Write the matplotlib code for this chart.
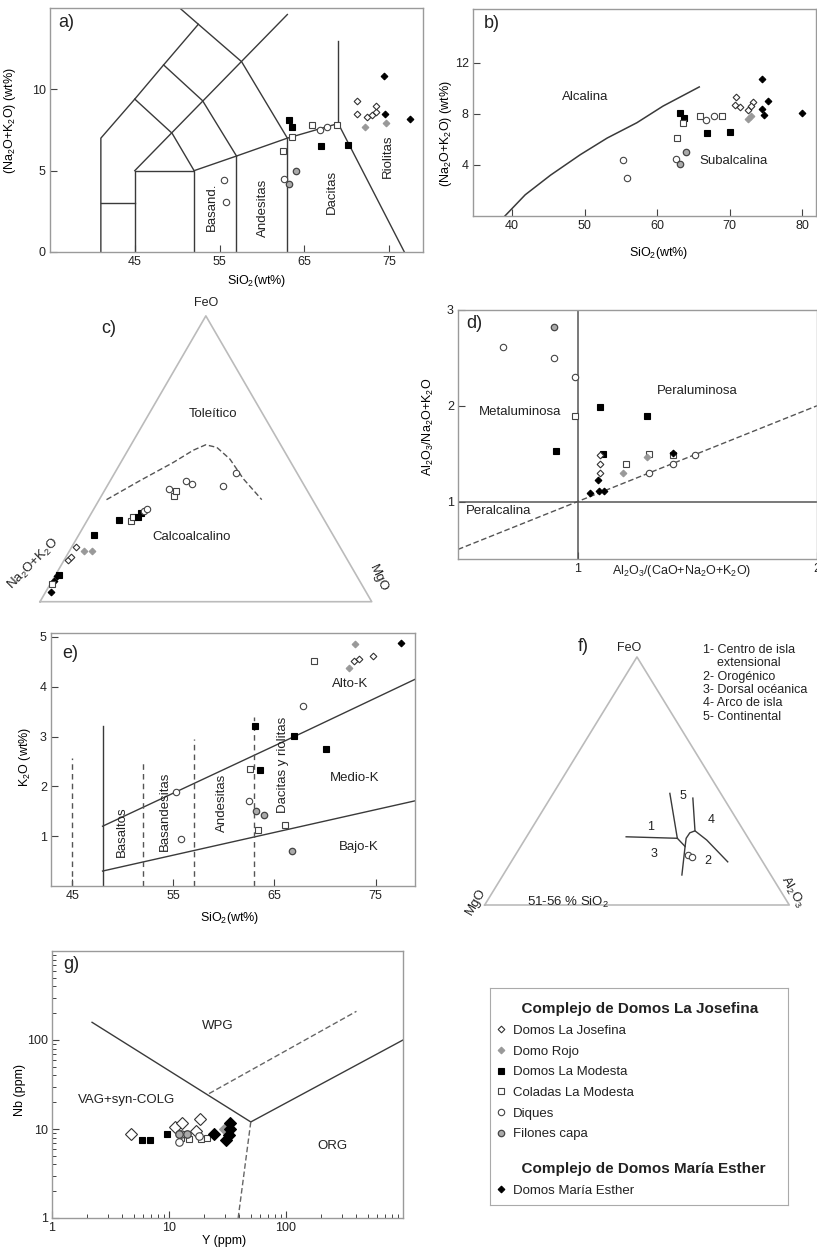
import numpy as np
import matplotlib
matplotlib.use("Agg")
import matplotlib.pyplot as plt
from matplotlib.lines import Line2D

plt.rcParams['font.family'] = ['Liberation Sans', 'DejaVu Sans']
plt.rcParams['mathtext.fontset'] = 'custom'
plt.rcParams['mathtext.rm'] = 'Liberation Sans'
plt.rcParams['mathtext.it'] = 'Liberation Sans'
plt.rcParams['font.size'] = 9
plt.rcParams['text.color'] = '#222222'
plt.rcParams['xtick.color'] = '#444444'
plt.rcParams['ytick.color'] = '#444444'
plt.rcParams['xtick.labelcolor'] = '#222222'
plt.rcParams['ytick.labelcolor'] = '#222222'

# ---- data ----
# a) TAS (SiO2, Na2O+K2O)
tas_pts = {
    'jos': ([71.2, 71.2, 72.4, 73.0, 73.4, 73.5], [9.3, 8.5, 8.3, 8.4, 8.6, 9.0]),
    'rojo': ([72.1, 74.6], [7.7, 7.9]),
    'mod': ([63.2, 63.6, 67.0, 70.1], [8.1, 7.7, 6.5, 6.6]),
    'col': ([63.5, 62.5, 65.9, 68.9], [7.1, 6.2, 7.8, 7.8]),
    'diq': ([62.6, 66.8, 67.7, 55.5, 55.8], [4.5, 7.5, 7.7, 4.4, 3.1]),
    'fil': ([63.2, 64.0], [4.2, 5.0]),
    'me': ([74.4, 74.5, 77.5], [10.8, 8.5, 8.2]),
}
tas_lines = [
    [(41, 0), (41, 7), (45, 9.4), (48.4, 11.5), (52.5, 14), (50.3, 15)],
    [(41, 3), (45, 3)],
    [(45, 0), (45, 5), (52, 5), (52, 0)],
    [(45, 5), (63, 14.6)],
    [(45, 9.4), (49.4, 7.3), (52, 5)],
    [(48.4, 11.5), (53, 9.3), (57, 5.9)],
    [(52.5, 14), (57.6, 11.7), (63, 7)],
    [(52, 5), (57, 5.9), (63, 7), (69, 7.9), (76.8, 0)],
    [(57, 0), (57, 5.9)],
    [(63, 0), (63, 7)],
    [(69, 7.9), (69, 13)],
]
tas_names = ['Basand.', 'Andesitas', 'Dacitas', 'Riolitas']
tas_name_xy = [(54.1, 2.8), (60.1, 2.7), (68.3, 3.7), (74.8, 5.9)]

# b) Irvine & Baragar alkaline / subalkaline
ib_pts = {
    'jos': ([70.9, 70.7, 71.4, 72.5, 73.2, 72.9], [9.3, 8.7, 8.5, 8.3, 8.95, 8.6]),
    'rojo': ([72.5, 73.0], [7.6, 7.8]),
    'mod': ([63.1, 63.7, 66.9, 70.1], [8.1, 7.7, 6.5, 6.6]),
    'col': ([63.5, 62.7, 65.9, 68.9], [7.3, 6.1, 7.8, 7.8]),
    'diq': ([66.7, 67.8, 55.3, 55.8, 62.6], [7.5, 7.8, 4.4, 3.0, 4.45]),
    'fil': ([63.1, 64.0], [4.1, 5.0]),
    'me': ([74.5, 75.3, 74.4, 74.7, 80.0], [10.75, 9.0, 8.4, 7.9, 8.1]),
}
ib_curve_x = [39.0, 41.8, 45.3, 49.4, 53.1, 57.2, 60.8, 65.8]
ib_curve_y = [0.0, 1.66, 3.2, 4.8, 6.1, 7.3, 8.6, 10.1]

# c) AFM ternary (FeO %, MgO %; rest = Na2O+K2O)
afm_pts = {
    'me': ([3.5, 7.3, 8.9], [1.5, 0.7, 0.8]),
    'col': ([6.1, 28.1, 29.6, 36.9, 38.7], [0.5, 13.3, 13.3, 21.9, 21.7]),
    'mod': ([9.3, 23.2, 28.7, 29.8, 31.0], [1.2, 4.7, 9.6, 14.7, 14.9]),
    'jos': ([14.7, 15.7, 19.1], [1.2, 1.4, 1.3]),
    'rojo': ([17.8, 17.8], [4.4, 6.7]),
    'diq': ([31.7, 32.5, 39.5, 42.1, 41.2, 40.6, 45.1], [15.4, 15.9, 19.2, 23.0, 25.1, 34.8, 36.6]),
}
afm_bound_f = [35.7, 42.4, 48.7, 53.0, 54.9, 54.0, 49.9, 43.0, 35.7]
afm_bound_m = [2.2, 9.0, 15.8, 19.7, 22.5, 26.3, 32.3, 39.8, 49.0]

# d) Shand index (A/CNK, A/NK)
shand_pts = {
    'diq': ([0.69, 0.90, 0.99, 1.30, 1.40, 1.49], [2.61, 2.50, 2.30, 1.30, 1.39, 1.49]),
    'fil': ([0.90], [2.82]),
    'col': ([0.99, 1.20, 1.30, 1.40], [1.89, 1.39, 1.50, 1.49]),
    'mod': ([0.91, 1.095, 1.29, 1.105], [1.53, 1.99, 1.89, 1.50]),
    'jos': ([1.095, 1.095, 1.095], [1.49, 1.39, 1.30]),
    'rojo': ([1.19, 1.29], [1.30, 1.47]),
    'me': ([1.05, 1.085, 1.09, 1.11, 1.40], [1.09, 1.22, 1.11, 1.11, 1.51]),
}

# e) K2O vs SiO2
k_pts = {
    'jos': ([72.9, 73.4, 74.7], [4.52, 4.56, 4.61]),
    'rojo': ([73.0, 72.4], [4.86, 4.37]),
    'mod': ([63.1, 63.6, 66.9, 70.1], [3.21, 2.32, 3.01, 2.76]),
    'col': ([68.9, 62.6, 63.4, 66.0], [4.51, 2.34, 1.12, 1.23]),
    'diq': ([67.8, 55.3, 55.8, 62.5], [3.61, 1.89, 0.95, 1.71]),
    'fil': ([63.2, 64.0, 66.7], [1.51, 1.43, 0.70]),
    'me': ([77.5], [4.88]),
}
k_high = [(48, 1.2), (68, 3.1), (78.9, 4.15)]
k_low = [(48, 0.3), (78.9, 1.71)]
k_dash_x = [45, 52, 57, 63]
k_dash_top = [2.58, 2.49, 2.96, 3.4]
k_names = ['Basaltos', 'Basandesitas', 'Andesitas', 'Dacitas y riolitas']
k_name_xy = [(49.9, 1.1), (54.2, 1.5), (59.8, 1.67), (65.8, 2.44)]

# f) FeO-MgO-Al2O3 ternary (FeO %, Al2O3 %)
fma_pts = {'diq': ([20.2, 19.3], [56.7, 58.4])}
fma_lines = [
    ([45.0, 26.9], [38.3, 49.8]),
    ([27.5, 26.9], [32.7, 49.8]),
    ([26.9, 23.6, 12.1], [49.8, 54.0, 58.7]),
    ([43.1, 29.9], [46.8, 54.1]),
    ([23.6, 26.9, 29.1, 29.9, 26.2, 17.4], [54.0, 52.7, 52.8, 54.1, 59.8, 71.1]),
]
fma_keys = ['1- Centro de isla', '    extensional', '2- Orogénico',
            '3- Dorsal océanica', '4- Arco de isla', '5- Continental']

# g) Nb vs Y
nby_pts = {
    'jos': ([4.77, 11.3, 12.8, 18.4, 16.9], [8.7, 10.6, 11.6, 12.8, 9.6]),
    'mod': ([5.93, 6.84, 9.7], [7.6, 7.6, 8.7]),
    'col': ([12.6, 14.8, 18.6, 21.2, 13.8], [8.0, 7.8, 7.8, 8.0, 8.7]),
    'diq': ([12.2, 12.6, 18.0], [7.2, 8.7, 8.3]),
    'fil': ([12.2, 14.3], [8.7, 8.7]),
    'rojo': ([30.4], [9.9]),
    'me': ([24.2, 33.0, 33.4, 32.5, 30.7], [8.7, 11.6, 9.9, 8.6, 7.6]),
}
nby_solid = [[(2.2, 158), (50, 12), (1000, 100)]]
nby_dash = [[(22, 25), (400, 210)], [(50, 12), (39, 1)]]

legend_labels = {
    'jos': 'Domos La Josefina', 'rojo': 'Domo Rojo', 'mod': 'Domos La Modesta',
    'col': 'Coladas La Modesta', 'diq': 'Diques', 'fil': 'Filones capa',
    'me': 'Domos María Esther',
}

# ---- styles ----
styles = {
    'jos': dict(marker='D', mfc='white', mec='#333333', ms=3.4, mew=0.8),
    'rojo': dict(marker='D', mfc='#999999', mec='#999999', ms=3.4, mew=0.8),
    'mod': dict(marker='s', mfc='black', mec='black', ms=4.5, mew=0.8),
    'col': dict(marker='s', mfc='white', mec='#444444', ms=4.5, mew=0.8),
    'diq': dict(marker='o', mfc='white', mec='#444444', ms=4.6, mew=0.8),
    'fil': dict(marker='o', mfc='#aaaaaa', mec='#444444', ms=4.6, mew=0.9),
    'me': dict(marker='D', mfc='black', mec='black', ms=3.4, mew=0.8),
}
g_sizes = {'jos': 6.5, 'rojo': 6.5, 'me': 6.0, 'mod': 5.0, 'col': 5.0, 'diq': 5.4, 'fil': 5.4}
LINE = '#3a3a3a'
FRAME = '#9a9a9a'

W, H = 817, 1258
fig = plt.figure(figsize=(W / 100, H / 100), dpi=100)


def px_axes(l, t, r, b):
    return fig.add_axes([l / W, 1 - b / H, (r - l) / W, (b - t) / H])


def plot_groups(ax, pts, sizes=None, conv=None):
    for key, (xs, ys) in pts.items():
        st = dict(styles[key])
        if sizes is not None:
            st['ms'] = sizes[key]
        if conv is not None:
            xs, ys = conv(xs, ys)
        ax.plot(xs, ys, ls='none', **st)


def frame(ax):
    for s in ax.spines.values():
        s.set_color(FRAME)
        s.set_linewidth(1.0)
    ax.tick_params(direction='in', length=5, width=0.8, labelsize=9, pad=3)


def tern(top, right):
    top = np.asarray(top, float) / 100
    right = np.asarray(right, float) / 100
    return right + top / 2, top * np.sqrt(3) / 2


# ---- a) ----
ax = px_axes(50, 8, 423, 252)
ax.set_xlim(35, 79)
ax.set_ylim(0, 15)
for ln in tas_lines:
    xs, ys = zip(*ln)
    ax.plot(xs, ys, color=LINE, lw=1)
for name, (x, y) in zip(tas_names, tas_name_xy):
    ax.text(x, y, name, rotation=90, ha='center', va='center', fontsize=9.5)
plot_groups(ax, tas_pts)
ax.set_xticks([45, 55, 65, 75])
ax.set_yticks([0, 5, 10])
frame(ax)
ax.set_xlabel(r'SiO$_2$(wt%)', fontsize=9)
ax.xaxis.set_label_coords(0.555, -0.086)
ax.set_ylabel(r'(Na$_2$O+K$_2$O) (wt%)', fontsize=9)
ax.yaxis.set_label_coords(-0.086, 0.54)
ax.text(0.022, 0.94, 'a)', transform=ax.transAxes, fontsize=13, va='center')

# ---- b) ----
ax = px_axes(473, 9, 816, 216)
ax.set_xlim(34.6, 81.9)
ax.set_ylim(0, 16.2)
ax.plot(ib_curve_x, ib_curve_y, color=LINE, lw=1.1)
plot_groups(ax, ib_pts)
ax.text(50.1, 9.3, 'Alcalina', ha='center', va='center', fontsize=9.5)
ax.text(70.5, 4.3, 'Subalcalina', ha='center', va='center', fontsize=9.5)
ax.set_xticks([40, 50, 60, 70, 80])
ax.set_yticks([4, 8, 12])
frame(ax)
ax.set_xlabel(r'SiO$_2$(wt%)', fontsize=9)
ax.xaxis.set_label_coords(0.54, -0.14)
ax.set_ylabel(r'(Na$_2$O+K$_2$O) (wt%)', fontsize=9)
ax.yaxis.set_label_coords(-0.055, 0.40)
ax.text(0.032, 0.93, 'b)', transform=ax.transAxes, fontsize=13, va='center')

# ---- c) ----
ax = px_axes(0, 300, 400, 612)
ax.set_xlim(-0.1206, 1.0853)
ax.set_ylim(-0.0312, 0.9142)
ax.axis('off')
tx, ty = tern([0, 100, 0, 0], [0, 0, 100, 0])
ax.plot(tx, ty, color='#bbbbbb', lw=1.2)
bx, by = tern(afm_bound_f, afm_bound_m)
ax.plot(bx, by, color='#555555', lw=1, ls=(0, (4, 2)))
plot_groups(ax, afm_pts, conv=tern)
ax.text(0.4995, 0.905, 'FeO', ha='center', va='center', fontsize=9)
ax.text(0.206, 0.829, 'c)', ha='center', va='center', fontsize=13)
ax.text(0.523, 0.568, 'Toleítico', ha='center', va='center', fontsize=9.5)
ax.text(0.457, 0.197, 'Calcoalcalino', ha='center', va='center', fontsize=9.5)
ax.text(-0.02, 0.115, r'Na$_2$O+K$_2$O', rotation=45, ha='center', va='center', fontsize=9.5)
ax.text(1.02, 0.07, 'MgO', rotation=-65, ha='center', va='center', fontsize=9.5)

# ---- d) ----
ax = px_axes(458, 310, 817, 559)
ax.set_xlim(0.5, 2.0)
ax.set_ylim(0.4, 3.0)
ax.axvline(1, color='#555555', lw=1.1)
ax.axhline(1, color='#555555', lw=1.1)
ax.plot([0.5, 2.0], [0.5, 2.0], color='#555555', lw=1, ls=(0, (4, 2)))
plot_groups(ax, shand_pts)
ax.text(0.76, 1.94, 'Metaluminosa', ha='center', va='center', fontsize=9.5)
ax.text(1.50, 2.15, 'Peraluminosa', ha='center', va='center', fontsize=9.5)
ax.text(0.67, 0.90, 'Peralcalina', ha='center', va='center', fontsize=9.5)
ax.set_xticks([1, 2])
ax.set_yticks([1, 2, 3])
frame(ax)
ax.text(1.433, -0.047, r'Al$_2$O$_3$/(CaO+Na$_2$O+K$_2$O)', transform=ax.get_xaxis_transform(),
        ha='center', va='center', fontsize=9)
ax.set_ylabel(r'Al$_2$O$_3$/Na$_2$O+K$_2$O', fontsize=9)
ax.yaxis.set_label_coords(-0.061, 0.53)
ax.text(0.024, 0.946, 'd)', transform=ax.transAxes, fontsize=13, va='center')

# ---- e) ----
ax = px_axes(51, 633, 415, 886)
ax.set_xlim(42.9, 78.9)
ax.set_ylim(0, 5.08)
for ln in (k_high, k_low):
    xs, ys = zip(*ln)
    ax.plot(xs, ys, color=LINE, lw=1)
ax.plot([48, 48], [0, 3.22], color=LINE, lw=1)
for x, top in zip(k_dash_x, k_dash_top):
    ax.plot([x, x], [0, top], color='#555555', lw=1, ls=(0, (4, 3)))
for name, (x, y) in zip(k_names, k_name_xy):
    ax.text(x, y, name, rotation=90, ha='center', va='center', fontsize=9.5)
ax.text(72.5, 4.05, 'Alto-K', ha='center', va='center', fontsize=9.5)
ax.text(72.9, 2.17, 'Medio-K', ha='center', va='center', fontsize=9.5)
ax.text(73.3, 0.78, 'Bajo-K', ha='center', va='center', fontsize=9.5)
plot_groups(ax, k_pts)
ax.set_xticks([45, 55, 65, 75])
ax.set_yticks([1, 2, 3, 4, 5])
frame(ax)
ax.set_xlabel(r'SiO$_2$(wt%)', fontsize=9)
ax.xaxis.set_label_coords(0.49, -0.095)
ax.set_ylabel(r'K$_2$O (wt%)', fontsize=9)
ax.yaxis.set_label_coords(-0.049, 0.51)
ax.text(0.032, 0.92, 'e)', transform=ax.transAxes, fontsize=13, va='center')

# ---- f) ----
ax = px_axes(440, 630, 817, 915)
ax.set_xlim(-0.1467, 1.0911)
ax.set_ylim(-0.0349, 0.9602)
ax.axis('off')
ax.plot(tx, ty, color='#bbbbbb', lw=1.2)
for fs, als in fma_lines:
    lx, ly = tern(fs, als)
    ax.plot(lx, ly, color=LINE, lw=1)
plot_groups(ax, fma_pts, conv=tern)
ax.text(0.474, 0.897, 'FeO', ha='center', va='center', fontsize=9)
ax.text(0.323, 0.904, 'f)', ha='center', va='center', fontsize=13)
for num, (x, y) in zip('54132', [(0.652, 0.381), (0.743, 0.297), (0.543, 0.273),
                                  (0.556, 0.178), (0.731, 0.155)]):
    ax.text(x, y, num, ha='center', va='center', fontsize=9)
ax.text(0.272, 0.01, r'51-56 % SiO$_2$', ha='center', va='center', fontsize=9.5)
ax.text(-0.03, 0.012, 'MgO', rotation=60, ha='center', va='center', fontsize=9.5)
ax.text(1.01, 0.045, r'Al$_2$O$_3$', rotation=-60, ha='center', va='center', fontsize=9.5)
fig.text(703 / W, 1 - 644 / H, '\n'.join(fma_keys), ha='left', va='top',
         fontsize=9, linespacing=1.15)

# ---- g) ----
ax = px_axes(52, 951, 403, 1218)
ax.set_xscale('log')
ax.set_yscale('log')
ax.set_xlim(1, 1000)
ax.set_ylim(1, 1000)
for ln in nby_solid:
    xs, ys = zip(*ln)
    ax.plot(xs, ys, color=LINE, lw=1)
for ln in nby_dash:
    xs, ys = zip(*ln)
    ax.plot(xs, ys, color='#666666', lw=1, ls=(0, (4, 2)))
ax.text(26.3, 145, 'WPG', ha='center', va='center', fontsize=9.5)
ax.text(4.36, 21, 'VAG+syn-COLG', ha='center', va='center', fontsize=9.5)
ax.text(247, 6.43, 'ORG', ha='center', va='center', fontsize=9.5)
plot_groups(ax, nby_pts, sizes=g_sizes)
ax.set_xticks([1, 10, 100])
ax.set_xticklabels(['1', '10', '100'])
ax.set_yticks([1, 10, 100])
ax.set_yticklabels(['1', '10', '100'])
frame(ax)
ax.tick_params(which='minor', direction='in', length=3, width=0.7)
ax.xaxis.set_minor_formatter(plt.NullFormatter())
ax.yaxis.set_minor_formatter(plt.NullFormatter())
ax.set_xlabel('Y (ppm)', fontsize=9)
ax.xaxis.set_label_coords(0.49, -0.064)
ax.set_ylabel('Nb (ppm)', fontsize=9)
ax.yaxis.set_label_coords(-0.074, 0.48)
ax.text(0.032, 0.948, 'g)', transform=ax.transAxes, fontsize=13, va='center')

# ---- legend (two blocks) ----
lax = px_axes(490, 988, 788, 1205)
lax.set_xticks([])
lax.set_yticks([])
for s in lax.spines.values():
    s.set_color('#aaaaaa')
common = dict(loc='upper left', frameon=False, fontsize=9.5, handlelength=0.7,
              handletextpad=0.55, labelspacing=0.64, borderaxespad=0, borderpad=0.2,
              alignment='left', title_fontproperties={'weight': 'bold', 'size': 11})
h1 = [Line2D([], [], ls='none', label=legend_labels[k], **styles[k])
      for k in ['jos', 'rojo', 'mod', 'col', 'diq', 'fil']]
leg1 = lax.legend(handles=h1, title='      Complejo de Domos La Josefina',
                  bbox_to_anchor=(0.012, 0.947), **common)
lax.add_artist(leg1)
h2 = [Line2D([], [], ls='none', label=legend_labels['me'], **styles['me'])]
lax.legend(handles=h2, title='      Complejo de Domos María Esther',
           bbox_to_anchor=(0.012, 0.211), **common)

fig.savefig('out.png', dpi=100)
